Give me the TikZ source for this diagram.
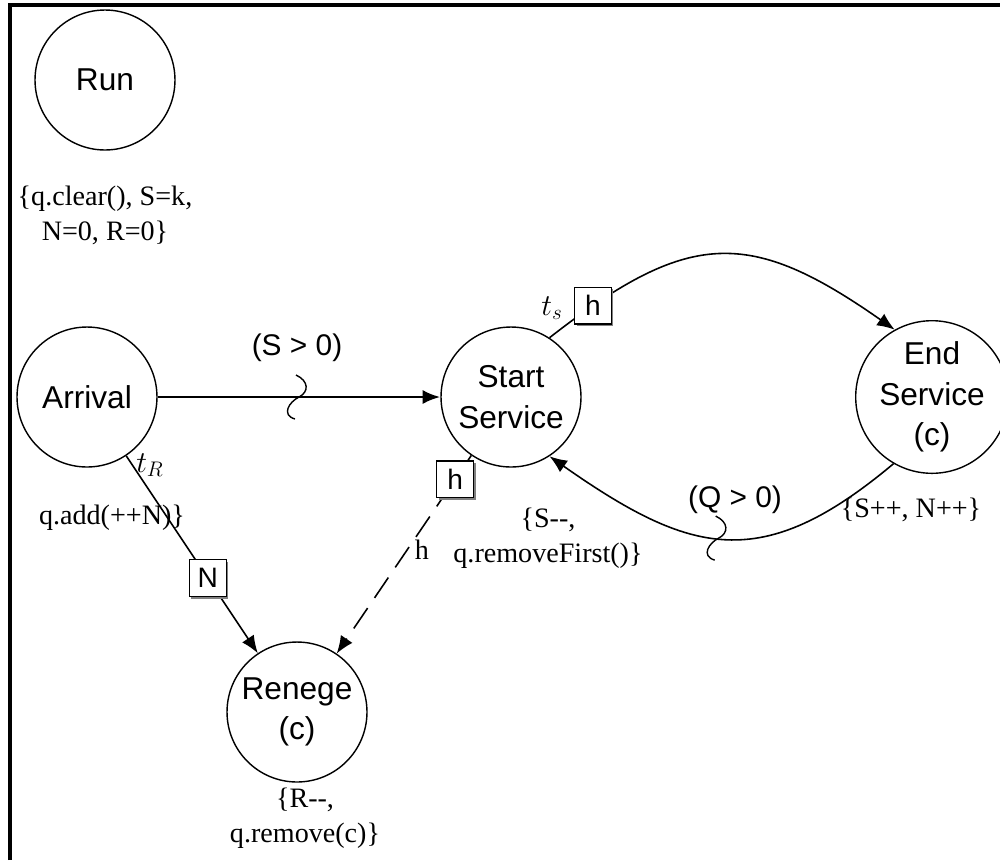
\documentclass[tikz,border=0pt]{standalone}
\usepackage{fontspec}
\setmainfont{Liberation Serif}
\setsansfont{Liberation Sans}
\usetikzlibrary{arrows.meta,shadows}

\tikzset{
  event/.style={circle,draw=black,line width=0.8pt,fill=white,minimum size=2.8cm,inner sep=0pt,align=center,font=\sffamily\fontsize{18}{23}\selectfont},
  act/.style={align=center,font=\fontsize{16}{20}\selectfont},
  cond/.style={font=\sffamily\fontsize{17}{20}\selectfont},
  delay/.style={font=\fontsize{17}{20}\selectfont},
  guard/.style={solid,draw=black,line width=0.8pt,fill=white,minimum size=21pt,inner sep=0pt,font=\sffamily\fontsize{16}{18}\selectfont,drop shadow={shadow xshift=1.2pt,shadow yshift=-1.2pt,fill=gray,opacity=1}},
  sched/.style={line width=0.9pt,-{Latex[length=10pt,width=8pt]}},
  cancel/.style={sched,dash pattern=on 14pt off 7pt},
  squig/.pic={\draw[line width=0.8pt] (-3,-22) .. controls (10,-16) and (10,-5) .. (0,0) .. controls (-10,5) and (-18,18) .. (-4,22);}
}

\begin{document}
\begin{tikzpicture}[x=0.02cm,y=-0.02cm]
\useasboundingbox (0,0) rectangle (1000,860);
\draw[line width=2pt] (10,860) -- (10,5) -- (1000,5);

\node[event] (run) at (105,80) {Run};
\node[event] (arrival) at (87,397) {Arrival};
\node[event] (start) at (511,397) {Start\\Service};
\node[event] (end) at (932,397) {End\\Service\\(c)};
\node[event] (renege) at (297,712) {Renege\\(c)};

\node[act] (runact) at (105,215) {\{q.clear(), S=k,\\N=0, R=0\}};
\node[act] (arract) at (112,518) {q.add(++N)\}};
\node[act] (startact) at (548,538) {\{S-{}-,\\q.removeFirst()\}};
\node[act] (endact) at (911,510) {\{S++, N++\}};
\node[act] (renact) at (305,818) {\{R-{}-,\\q.remove(c)\}};

\draw[sched,line width=1.6pt] (arrival) -- coordinate[pos=0.5] (sq1) (start);
\draw[sched] (start.57) to[out=38,in=145,looseness=1.31] node[guard,pos=0.11] (hbox1) {h} (end.119);
\draw[sched] (end.-120) to[out=-140,in=-35,looseness=1.28] coordinate[pos=0.52] (sq2) (start.-57);
\draw[sched] (arrival) -- node[guard,pos=0.62] (nbox) {N} (renege);
\draw[cancel] (start) -- node[guard,pos=0.12] (hbox2) {h} (renege);

\node[delay] (ts) at (552,308) {$t_s$};
\node[delay] (tr) at (150,465) {$t_R$};
\node[act] (hpar) at (422,550) {h};
\node[cond] (scond) at (297,348) {(S > 0)};
\node[cond] (qcond) at (735,500) {(Q > 0)};
\pic at (sq1) {squig};
\pic at (sq2) {squig};
\end{tikzpicture}
\end{document}
